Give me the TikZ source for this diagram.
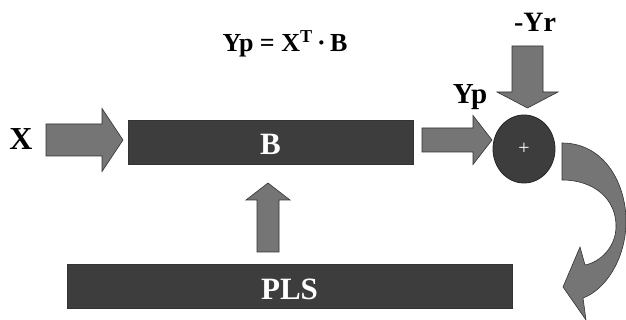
\documentclass[tikz,border=0pt]{standalone}
\usepackage{fontspec}
\setmainfont{Liberation Serif}
\usetikzlibrary{shapes.geometric}
\definecolor{boxgray}{HTML}{3D3D3D}
\definecolor{arrowgray}{HTML}{757575}
\definecolor{edgegray}{HTML}{333333}
\tikzset{
  box/.style={draw=edgegray, fill=boxgray, text=white, inner sep=0pt,
    text height=26pt, text depth=0pt, font=\fontsize{31}{31}\selectfont\bfseries},
  arrowbody/.style={draw=edgegray, fill=arrowgray, line width=0.6pt, line join=miter},
  lab/.style={anchor=base, inner sep=0pt, font=\bfseries},
  sumnode/.style={ellipse, draw=black!85, fill=boxgray, line width=0.8pt,
    minimum width=62pt, minimum height=68pt, inner sep=0pt, text=white,
    text height=12pt, text depth=0pt, font=\fontsize{20}{20}\selectfont},
  pics/fatarrow/.style n args={4}{code={
    \draw[arrowbody] (0,-#2) -- ({#1-#4},-#2) -- ({#1-#4},-#3) -- (#1,0)
      -- ({#1-#4},#3) -- ({#1-#4},#2) -- (0,#2) -- cycle;
  }}
}

\begin{document}
\begin{tikzpicture}[x=1pt, y=-1pt]
  \useasboundingbox (0,0) rectangle (626,320);
  % blocks
  \node[box, minimum width=285pt, minimum height=44pt] (B) at (270.5,142) {B};
  \node[box, minimum width=445pt, minimum height=44pt] (PLS) at (289.5,286) {PLS};
  \node[sumnode] (sum) at (524,149) {+};
  % labels
  \node[lab, font=\fontsize{32}{32}\selectfont\bfseries] (X) at (21,150) {X};
  \node[lab, font=\fontsize{26}{26}\selectfont\bfseries] (eq) at (285,52)
    {Yp = X\textsuperscript{T}\,·\,B};
  \node[lab, font=\fontsize{28}{28}\selectfont\bfseries] (Yr) at (535,32) {-Yr};
  \node[lab, font=\fontsize{29}{29}\selectfont\bfseries] (Yp) at (470,104) {Yp};
  % block arrows
  \pic at (46,140) {fatarrow={77}{16}{31.5}{21}};
  \pic at (422,140) {fatarrow={70}{12}{24.5}{19}};
  \pic[rotate=-90] at (527.5,46) {fatarrow={62}{15.5}{30.5}{16}};
  \pic[rotate=90] at (268,252) {fatarrow={69}{11}{22}{17}};
  % curved return arrow
  \draw[arrowbody] (562,143) .. controls (605,143) and (627,185) .. (626,224)
    .. controls (625,260) and (605,290) .. (583,298) -- (586,320) -- (563,287)
    -- (580,247) -- (585,265) .. controls (600,262) and (615,248) .. (616,228)
    .. controls (617,200) and (595,180) .. (562,180) -- cycle;
\end{tikzpicture}
\end{document}
